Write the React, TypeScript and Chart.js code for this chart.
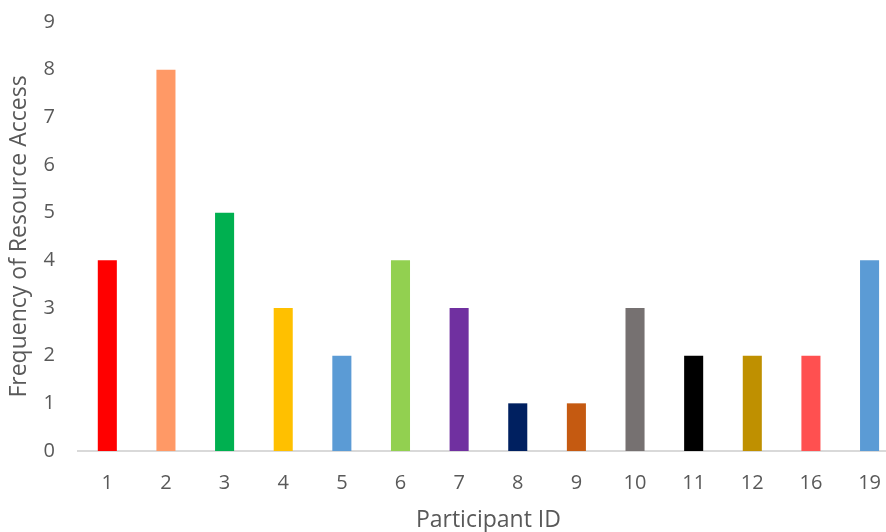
import React, { useEffect, useRef } from "react";
import { Chart, registerables } from "chart.js";

Chart.register(...registerables);

const participants = ["1", "2", "3", "4", "5", "6", "7", "8", "9", "10", "11", "12", "16", "19"];
const frequency = [4, 8, 5, 3, 2, 4, 3, 1, 1, 3, 2, 2, 2, 4];
const barColors = [
  "#FF0000", "#FF9966", "#00B050", "#FFC000", "#5B9BD5", "#92D050", "#7030A0",
  "#002060", "#C55A11", "#767171", "#000000", "#BF9000", "#FF5050", "#5B9BD5",
];
const yTitle = "Frequency of Resource Access";
const xTitle = "Participant ID";

export default function App() {
  const ref = useRef<HTMLCanvasElement | null>(null);
  useEffect(() => {
    if (!ref.current) return;
    const font = "'Open Sans', 'Liberation Sans', sans-serif";
    const chart = new Chart(ref.current, {
      type: "bar",
      data: {
        labels: participants,
        datasets: [
          {
            data: frequency,
            backgroundColor: barColors,
            barPercentage: 0.65,
            categoryPercentage: 0.5,
          },
        ],
      },
      options: {
        responsive: false,
        animation: false,
        layout: { padding: { top: 22, left: 0, right: 0, bottom: 0 } },
        plugins: { legend: { display: false }, tooltip: { enabled: false } },
        scales: {
          x: {
            grid: { display: false, drawTicks: false },
            border: { display: true, color: "#D9D9D9", width: 2 },
            ticks: { color: "#595959", font: { family: font, size: 20 }, padding: 20, maxRotation: 0 },
            title: { display: true, text: xTitle, color: "#595959", font: { family: font, size: 23, lineHeight: 1 }, padding: { top: 0, bottom: 0 } },
            afterFit: (s: any) => { s.height = 81; },
          },
          y: {
            min: 0,
            max: 9,
            ticks: { stepSize: 1, color: "#595959", font: { family: font, size: 20 }, padding: 23 },
            grid: { display: false, drawTicks: false },
            border: { display: false },
            title: { display: true, text: yTitle, color: "#595959", font: { family: font, size: 23, lineHeight: 1 }, padding: { top: 8, bottom: 0 } },
            afterFit: (s: any) => { s.width = 78; s.paddingTop = 0; s.paddingBottom = 0; },
          },
        },
      },
    });
    return () => chart.destroy();
  }, []);
  return (
    <div style={{ position: "fixed", left: 0, top: 0, width: 886, height: 532, overflow: "hidden", background: "#fff" }}>
      <canvas ref={ref} width={901} height={532} />
    </div>
  );
}
